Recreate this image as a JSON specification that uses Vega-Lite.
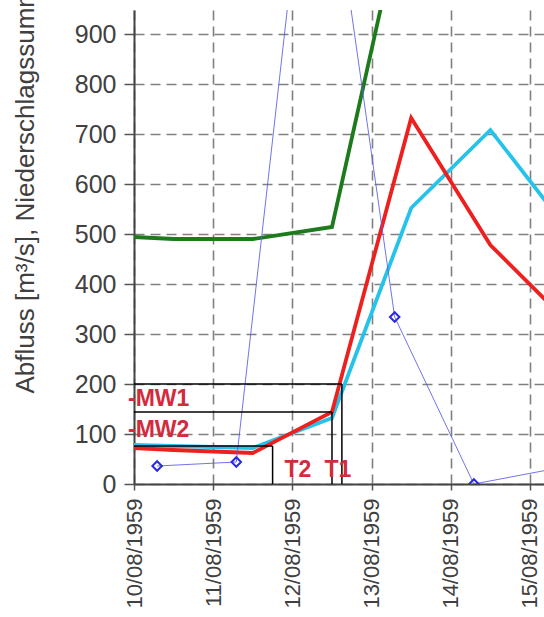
{
  "$schema": "https://vega.github.io/schema/vega-lite/v6.json",
  "width": 410,
  "height": 474,
  "autosize": {"type": "none"},
  "padding": {"left": 134, "top": 10, "right": 0, "bottom": 133},
  "background": "white",
  "config": {"view": {"stroke": null}, "font": "Liberation Sans"},
  "datasets": {
    "flow": [
      {"series": "Q2", "date": "1959-08-10T00:00:00Z", "value": 78},
      {"series": "Q2", "date": "1959-08-10T12:00:00Z", "value": 76},
      {"series": "Q2", "date": "1959-08-11T12:00:00Z", "value": 72},
      {"series": "Q2", "date": "1959-08-12T12:00:00Z", "value": 132},
      {"series": "Q2", "date": "1959-08-13T12:00:00Z", "value": 552},
      {"series": "Q2", "date": "1959-08-14T12:00:00Z", "value": 708},
      {"series": "Q2", "date": "1959-08-15T12:00:00Z", "value": 504},
      {"series": "Q1", "date": "1959-08-10T00:00:00Z", "value": 72},
      {"series": "Q1", "date": "1959-08-10T12:00:00Z", "value": 68},
      {"series": "Q1", "date": "1959-08-11T12:00:00Z", "value": 62},
      {"series": "Q1", "date": "1959-08-12T12:00:00Z", "value": 144},
      {"series": "Q1", "date": "1959-08-13T12:00:00Z", "value": 732},
      {"series": "Q1", "date": "1959-08-14T12:00:00Z", "value": 478},
      {"series": "Q1", "date": "1959-08-15T12:00:00Z", "value": 320},
      {"series": "Summe", "date": "1959-08-10T00:00:00Z", "value": 494},
      {"series": "Summe", "date": "1959-08-10T12:00:00Z", "value": 490},
      {"series": "Summe", "date": "1959-08-11T12:00:00Z", "value": 490},
      {"series": "Summe", "date": "1959-08-12T12:00:00Z", "value": 514},
      {"series": "Summe", "date": "1959-08-13T12:00:00Z", "value": 1224}
    ],
    "rain": [
      {"date": "1959-08-10T07:00:00Z", "value": 36},
      {"date": "1959-08-11T07:00:00Z", "value": 44},
      {"date": "1959-08-12T07:00:00Z", "value": 1450},
      {"date": "1959-08-13T07:00:00Z", "value": 334},
      {"date": "1959-08-14T07:00:00Z", "value": 0},
      {"date": "1959-08-15T07:00:00Z", "value": 30}
    ],
    "guides": [
      {"date": "1959-08-10T00:00:00Z", "date2": "1959-08-12T15:00:00Z", "value": 200, "value2": 200},
      {"date": "1959-08-12T15:00:00Z", "date2": "1959-08-12T15:00:00Z", "value": 0, "value2": 200},
      {"date": "1959-08-10T00:00:00Z", "date2": "1959-08-12T12:00:00Z", "value": 144, "value2": 144},
      {"date": "1959-08-12T12:00:00Z", "date2": "1959-08-12T12:00:00Z", "value": 0, "value2": 144},
      {"date": "1959-08-10T00:00:00Z", "date2": "1959-08-11T18:00:00Z", "value": 76, "value2": 76},
      {"date": "1959-08-11T18:00:00Z", "date2": "1959-08-11T18:00:00Z", "value": 0, "value2": 76}
    ],
    "mwlabels": [
      {"date": "1959-08-10T00:00:00Z", "value": 170, "label": "-MW1"},
      {"date": "1959-08-10T00:00:00Z", "value": 108, "label": "-MW2"}
    ],
    "tlabels": [
      {"date": "1959-08-12T01:40:00Z", "value": 28, "label": "T2"},
      {"date": "1959-08-12T13:48:00Z", "value": 28, "label": "T1"}
    ]
  },
  "encoding": {
    "x": {
      "field": "date",
      "type": "temporal",
      "scale": {
        "type": "utc",
        "domain": [
          {"year": 1959, "month": 8, "date": 10, "utc": true},
          {"year": 1959, "month": 8, "date": 15, "hours": 4, "minutes": 15, "utc": true}
        ]
      },
      "axis": {
        "title": null,
        "format": "%d/%m/%Y",
        "values": [
          {"year": 1959, "month": 8, "date": 10, "utc": true},
          {"year": 1959, "month": 8, "date": 11, "utc": true},
          {"year": 1959, "month": 8, "date": 12, "utc": true},
          {"year": 1959, "month": 8, "date": 13, "utc": true},
          {"year": 1959, "month": 8, "date": 14, "utc": true},
          {"year": 1959, "month": 8, "date": 15, "utc": true}
        ],
        "labelAngle": -90,
        "labelFontSize": 22,
        "labelColor": "#404040",
        "labelPadding": 8,
        "labelFlush": false,
        "labelOverlap": false,
        "tickSize": 6,
        "tickColor": "#555555",
        "tickWidth": 1.5,
        "domainColor": "#444444",
        "domainWidth": 2,
        "grid": true,
        "gridDash": [10, 6],
        "gridColor": "#808080",
        "gridWidth": 1.6
      }
    },
    "y": {
      "field": "value",
      "type": "quantitative",
      "scale": {"domain": [0, 948], "nice": false, "zero": true},
      "axis": {
        "title": "Abfluss [m³/s], Niederschlagssumme [mm]",
        "titleFontSize": 26,
        "titleFontWeight": "normal",
        "titleColor": "#404040",
        "titleAngle": -90,
        "titleAlign": "left",
        "titleBaseline": "alphabetic",
        "titleX": -101,
        "titleY": 383,
        "values": [0, 100, 200, 300, 400, 500, 600, 700, 800, 900],
        "labelFontSize": 25,
        "labelColor": "#404040",
        "labelPadding": 8,
        "labelFlush": false,
        "tickSize": 10,
        "tickColor": "#555555",
        "tickWidth": 1.5,
        "domainColor": "#444444",
        "domainWidth": 2,
        "grid": true,
        "gridDash": [10, 6],
        "gridColor": "#808080",
        "gridWidth": 1.6
      }
    }
  },
  "layer": [
    {
      "data": {"name": "flow"},
      "mark": {"type": "line", "strokeWidth": 3.8, "clip": true, "strokeJoin": "miter"},
      "encoding": {
        "color": {
          "field": "series",
          "type": "nominal",
          "scale": {"domain": ["Q2", "Q1", "Summe"], "range": ["#25c3ea", "#ee1f1f", "#1d7a1d"]},
          "legend": null
        },
        "order": {"field": "date", "type": "temporal"},
        "detail": {"field": "series"}
      }
    },
    {
      "data": {"name": "rain"},
      "mark": {"type": "line", "strokeWidth": 1, "color": "#5a5ae8", "opacity": 0.85, "clip": true}
    },
    {
      "data": {"name": "rain"},
      "mark": {"type": "point", "shape": "diamond", "filled": false, "size": 90, "stroke": "#2a2ae0", "strokeWidth": 2, "clip": true, "opacity": 1}
    },
    {
      "data": {"name": "guides"},
      "mark": {"type": "rule", "color": "#000000", "strokeWidth": 1.5},
      "encoding": {
        "x2": {"field": "date2"},
        "y2": {"field": "value2"}
      }
    },
    {
      "data": {"name": "mwlabels"},
      "mark": {"type": "text", "align": "left", "baseline": "middle", "dx": -6, "fontSize": 23, "fontWeight": "bold", "color": "#d22b3c"},
      "encoding": {"text": {"field": "label"}}
    },
    {
      "data": {"name": "tlabels"},
      "mark": {"type": "text", "align": "center", "baseline": "middle", "fontSize": 23, "fontWeight": "bold", "color": "#d22b3c"},
      "encoding": {"text": {"field": "label"}}
    }
  ]
}
